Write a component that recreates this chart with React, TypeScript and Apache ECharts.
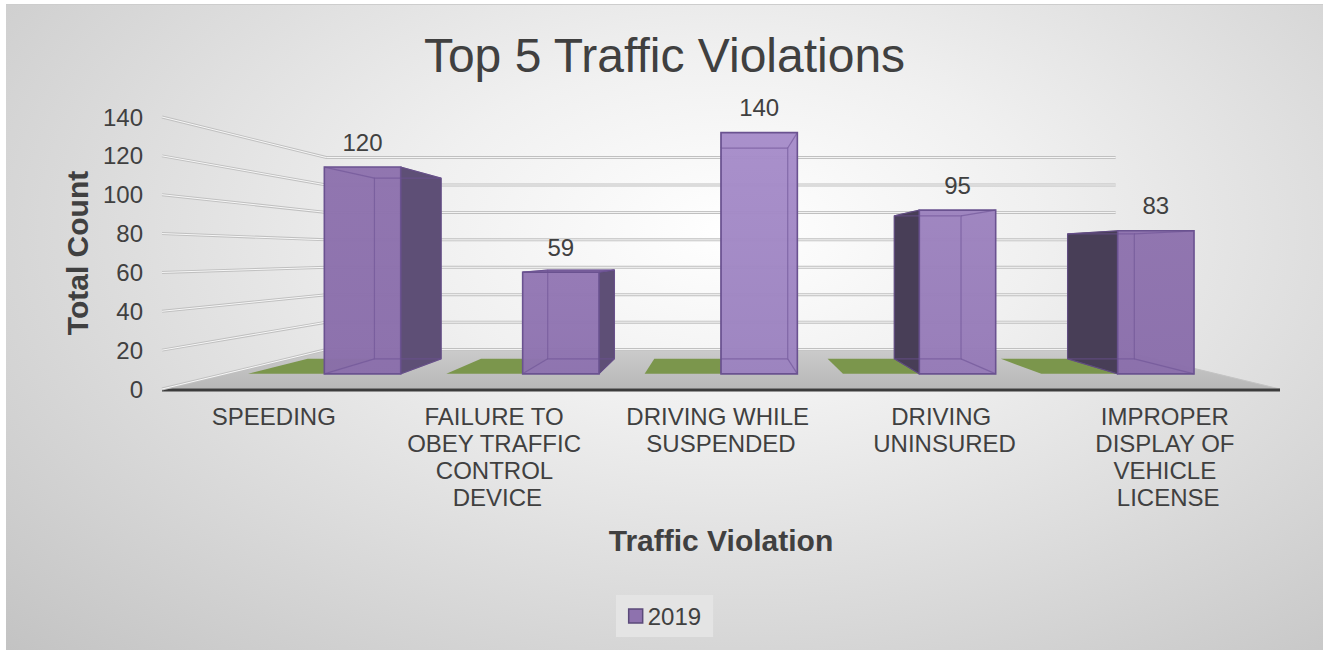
import React, { useEffect, useRef } from 'react';
import * as echarts from 'echarts';

const TITLE = 'Top 5 Traffic Violations';
const X_TITLE = 'Traffic Violation';
const Y_TITLE = 'Total Count';
const CATEGORIES = [
  'SPEEDING',
  'FAILURE TO OBEY TRAFFIC CONTROL DEVICE',
  'DRIVING WHILE SUSPENDED',
  'DRIVING UNINSURED',
  'IMPROPER DISPLAY OF VEHICLE LICENSE',
];
const SERIES_NAME = '2019';
const VALUES = [120, 59, 140, 95, 83];
const Y_TICKS = [0, 20, 40, 60, 80, 100, 120, 140];
const Y_MIN = 0;
const Y_MAX = 140;
const Y_INTERVAL = 20;

// perspective "camera" of the 3-D look
const VP_CATEGORY = 2;
const VP_VALUE = 69;
const DEPTH_WALL = 0.706;
const DEPTH_FRONT = 0.887;
const DEPTH_BACK = 0.775;
const BAR_FRACTION = 0.385;

const FONT = '"Liberation Sans", Arial, sans-serif';
const TEXT = '#404040';

type P = number[];
const proj = (p: P, vp: P, k: number): P => [vp[0] + (p[0] - vp[0]) * k, vp[1] + (p[1] - vp[1]) * k];

const mix = (a: string, b: string, t: number) => {
  const pa = [1, 3, 5].map((i) => parseInt(a.slice(i, i + 2), 16));
  const pb = [1, 3, 5].map((i) => parseInt(b.slice(i, i + 2), 16));
  return 'rgb(' + pa.map((v, i) => Math.round(v + (pb[i] - v) * t)).join(',') + ')';
};

const renderFloor = (params: any, api: any) => {
  const cs = params.coordSys;
  const vp = api.coord([VP_CATEGORY, VP_VALUE]);
  const y0 = api.coord([0, Y_MIN])[1];
  const fl = [cs.x, y0];
  const fr = [cs.x + cs.width, y0];
  const br = proj(fr, vp, DEPTH_WALL);
  const bl = proj(fl, vp, DEPTH_WALL);
  return {
    type: 'group',
    children: [
      {
        type: 'polygon',
        shape: { points: [fl, fr, br, bl] },
        style: {
          fill: new echarts.graphic.LinearGradient(0, 0, 0, 1, [
            { offset: 0, color: '#cbcbcb' },
            { offset: 1, color: '#b7b7b7' },
          ]),
          stroke: '#c4c4c4',
          lineWidth: 1,
        },
      },
      {
        type: 'line',
        shape: { x1: fl[0], y1: y0 + 1, x2: fr[0], y2: y0 + 1 },
        style: { stroke: '#3c3c3c', lineWidth: 3 },
      },
    ],
  };
};

const renderWall = (params: any, api: any) => {
  const cs = params.coordSys;
  const t = api.value(1);
  const vp = api.coord([VP_CATEGORY, VP_VALUE]);
  const y = api.coord([0, t])[1];
  const a = [cs.x, y];
  const b = proj(a, vp, DEPTH_WALL);
  const c = proj([cs.x + cs.width, y], vp, DEPTH_WALL);
  return {
    type: 'group',
    children: [
      { type: 'polyline', shape: { points: [a, b, c] }, style: { stroke: '#c0c0c0', lineWidth: 3, fill: null } },
      { type: 'polyline', shape: { points: [a, b, c] }, style: { stroke: '#f7f7f7', lineWidth: 1, fill: null } },
    ],
  };
};

const renderPatch = (params: any, api: any) => {
  const i = api.value(0);
  const vp = api.coord([VP_CATEGORY, VP_VALUE]);
  const base = api.coord([i, Y_MIN]);
  const w = api.size([1, 0])[0] * BAR_FRACTION;
  const l = [base[0] - w, base[1]];
  const r = [base[0], base[1]];
  return {
    type: 'polygon',
    shape: { points: [proj(l, vp, DEPTH_FRONT), proj(r, vp, DEPTH_FRONT), proj(r, vp, DEPTH_BACK), proj(l, vp, DEPTH_BACK)] },
    style: { fill: '#7b964c' },
  };
};

const renderBar = (params: any, api: any) => {
  const i = api.value(0);
  const v = api.value(1);
  const vp = api.coord([VP_CATEGORY, VP_VALUE]);
  const base = api.coord([i, Y_MIN]);
  const top = api.coord([i, v]);
  const w = api.size([1, 0])[0] * BAR_FRACTION;
  const xl = base[0];
  const xr = base[0] + w;
  const fp = [[xl, top[1]], [xr, top[1]], [xr, base[1]], [xl, base[1]]];
  const F = fp.map((p) => proj(p, vp, DEPTH_FRONT));
  const B = fp.map((p) => proj(p, vp, DEPTH_BACK));
  const cx = (F[0][0] + F[1][0]) / 2;
  const light = Math.max(0, 1 - Math.abs(cx - (vp[0] + 90)) / 300);
  const frontTop = mix('#8e72ae', '#ac93d0', light);
  const frontBot = mix('#8a6eab', '#9f86c3', light);
  const children: any[] = [];
  if (F[1][0] < vp[0]) {
    children.push({ type: 'polygon', shape: { points: [F[1], B[1], B[2], F[2]] }, style: { fill: '#5e4f76', stroke: '#5a4a74', lineWidth: 1 } });
  } else if (F[0][0] > vp[0]) {
    children.push({ type: 'polygon', shape: { points: [F[0], B[0], B[3], F[3]] }, style: { fill: '#483e57', stroke: '#4a3e5e', lineWidth: 1 } });
  }
  if (F[0][1] > vp[1]) {
    children.push({ type: 'polygon', shape: { points: [F[0], F[1], B[1], B[0]] }, style: { fill: '#8a6eab', stroke: '#6b5391', lineWidth: 1 } });
  }
  children.push({
    type: 'polygon',
    shape: { points: F },
    style: {
      fill: new echarts.graphic.LinearGradient(0, 0, 0, 1, [
        { offset: 0, color: frontTop },
        { offset: 1, color: frontBot },
      ]),
      opacity: 0.97,
    },
  });
  const hidden = 'rgba(108,82,148,0.6)';
  children.push({ type: 'polygon', shape: { points: B }, style: { fill: null, stroke: hidden, lineWidth: 1.2 } });
  for (let k = 0; k < 4; k++) {
    children.push({ type: 'line', shape: { x1: F[k][0], y1: F[k][1], x2: B[k][0], y2: B[k][1] }, style: { stroke: hidden, lineWidth: 1.2 } });
  }
  children.push({ type: 'polygon', shape: { points: F }, style: { fill: null, stroke: '#6a5290', lineWidth: 1.6 } });
  children.push({
    type: 'text',
    style: {
      text: String(v),
      x: cx,
      y: F[0][1] - 13,
      align: 'center',
      verticalAlign: 'bottom',
      textAlign: 'center',
      textVerticalAlign: 'bottom',
      fontSize: 24,
      fontFamily: FONT,
      fill: TEXT,
    },
  });
  return { type: 'group', children };
};

export default function App() {
  const ref = useRef<HTMLDivElement>(null);
  useEffect(() => {
    if (!ref.current) return;
    const chart = echarts.init(ref.current, undefined, { renderer: 'svg' });
    chart.setOption({
      animation: false,
      backgroundColor: 'transparent',
      title: {
        text: TITLE,
        left: 'center',
        top: 26,
        padding: 0,
        textStyle: { fontSize: 48, fontWeight: 'normal', color: TEXT, fontFamily: FONT },
      },
      legend: {
        data: [{ name: SERIES_NAME, icon: 'rect' }],
        left: 'center',
        top: 590,
        padding: [9, 12],
        backgroundColor: '#e4e4e4',
        itemWidth: 14,
        itemHeight: 14,
        itemStyle: { color: '#8e72ae', borderColor: '#5b4a7a', borderWidth: 1.5 },
        textStyle: { fontSize: 24, color: TEXT, fontFamily: FONT },
      },
      grid: { left: 156, right: 43, top: 112, bottom: 261 },
      xAxis: {
        type: 'category',
        data: CATEGORIES,
        axisLine: { show: false },
        axisTick: { show: false },
        splitLine: { show: false },
        axisLabel: {
          interval: 0,
          margin: 14,
          width: 200,
          overflow: 'break',
          lineHeight: 27,
          fontSize: 24,
          color: TEXT,
          fontFamily: FONT,
        },
        name: X_TITLE,
        nameLocation: 'middle',
        nameGap: 136,
        nameTextStyle: { fontSize: 30, fontWeight: 'bold', color: TEXT, fontFamily: FONT },
      },
      yAxis: {
        type: 'value',
        min: Y_MIN,
        max: Y_MAX,
        interval: Y_INTERVAL,
        axisLine: { show: false },
        axisTick: { show: false },
        splitLine: { show: false },
        axisLabel: { margin: 19, fontSize: 24, color: TEXT, fontFamily: FONT },
        name: Y_TITLE,
        nameLocation: 'middle',
        nameGap: 64,
        nameTextStyle: { fontSize: 30, fontWeight: 'bold', color: TEXT, fontFamily: FONT },
      },
      series: [
        { type: 'custom', name: 'floor', renderItem: renderFloor, data: [[0, Y_MIN]], silent: true, z: 1 },
        { type: 'custom', name: 'walls', renderItem: renderWall, data: Y_TICKS.map((t) => [0, t]), silent: true, z: 1 },
        { type: 'custom', name: 'floorPatch', renderItem: renderPatch, data: CATEGORIES.map((_, i) => [i, 0]), silent: true, z: 2 },
        {
          type: 'custom',
          name: SERIES_NAME,
          renderItem: renderBar,
          data: VALUES.map((v, i) => [i, v]),
          itemStyle: { color: '#8e72ae', borderColor: '#5b4a7a' },
          z: 3,
        },
      ],
    });
    return () => chart.dispose();
  }, []);
  return (
    <div style={{ position: 'absolute', left: 0, top: 0, width: 1323, height: 650, background: '#ffffff' }}>
      <div style={{ position: 'absolute', left: 6, top: 4, width: 1317, height: 1, background: '#cdcdcd' }} />
      <div
        ref={ref}
        style={{
          position: 'absolute',
          left: 6,
          top: 5,
          width: 1317,
          height: 645,
          background: 'radial-gradient(ellipse at 55% 35%, #ffffff 0%, #f0f0f0 30%, #c3c3c3 100%)',
        }}
      />
    </div>
  );
}
